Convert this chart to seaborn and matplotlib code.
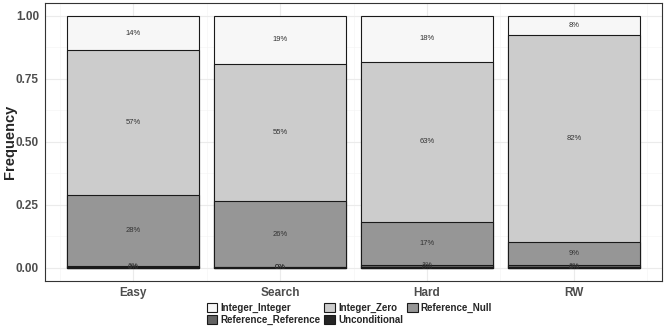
import numpy as np
import pandas as pd
import matplotlib
matplotlib.use("Agg")
import matplotlib.pyplot as plt
import seaborn as sns
from matplotlib.patches import Patch
from matplotlib.ticker import MultipleLocator

# proportions per task type
tasks = ["Easy", "Search", "Hard", "RW"]
integer_integer = [0.136, 0.190, 0.183, 0.075]
integer_zero = [0.574, 0.546, 0.634, 0.822]
reference_null = [0.281, 0.259, 0.170, 0.093]
reference_reference = [0.007, 0.003, 0.010, 0.008]
unconditional = [0.002, 0.002, 0.003, 0.002]

groups = ["Integer_Integer", "Integer_Zero", "Reference_Null",
          "Reference_Reference", "Unconditional"]
colors = ["#F7F7F7", "#CCCCCC", "#969696", "#636363", "#252525"]

df = pd.DataFrame({
    "Task": tasks,
    "Integer_Integer": integer_integer,
    "Integer_Zero": integer_zero,
    "Reference_Null": reference_null,
    "Reference_Reference": reference_reference,
    "Unconditional": unconditional,
})

sns.set_style("white")
plt.rcParams["font.family"] = ["Liberation Sans", "DejaVu Sans"]

fig = plt.figure(figsize=(6.64, 3.32), dpi=100)
ax = fig.add_axes([0.068, 0.155, 0.929, 0.835])

# stack from the bottom: Unconditional first, Integer_Integer on top
stack_order = groups[::-1]
cum = df[stack_order].cumsum(axis=1)

# draw cumulative bars from tallest to shortest so they overlap as a stack
for g in groups:
    col = colors[groups.index(g)]
    sns.barplot(x=df["Task"], y=cum[g], color=col, edgecolor="#1a1a1a",
                linewidth=0.8, width=0.9, ax=ax, zorder=2)

# percentage labels in the middle of each segment
for i, t in enumerate(tasks):
    base = 0.0
    for g in stack_order:
        v = df.loc[i, g]
        ax.text(i, base + v / 2, f"{v * 100:.0f}%", ha="center", va="center",
                fontsize=5.5, color="#333333", zorder=3)
        base += v

ax.set_xlim(-0.6, 3.6)
ax.set_ylim(-0.05, 1.05)
ax.set_yticks([0, 0.25, 0.5, 0.75, 1.0])
ax.set_yticklabels(["0.00", "0.25", "0.50", "0.75", "1.00"])
ax.yaxis.set_minor_locator(MultipleLocator(0.125))
ax.set_xticks(range(4))
ax.set_xticks(np.arange(-0.5, 4, 1), minor=True)

ax.grid(which="major", color="#EBEBEB", linewidth=0.8, zorder=0)
ax.grid(which="minor", color="#F5F5F5", linewidth=0.5, zorder=0)
ax.set_axisbelow(True)

for s in ax.spines.values():
    s.set_color("#333333")
    s.set_linewidth(0.8)

ax.tick_params(axis="both", which="major", length=2.5, width=0.6,
               color="#333333", labelsize=8.5, labelcolor="#4D4D4D")
ax.tick_params(axis="both", which="minor", length=0)
ax.tick_params(axis="x", pad=2)
ax.tick_params(axis="y", pad=2)
for lab in ax.get_xticklabels() + ax.get_yticklabels():
    lab.set_fontweight("bold")

ax.set_xlabel("")
ax.set_ylabel("Frequency", fontsize=10.5, fontweight="bold")
ax.yaxis.set_label_coords(-0.045, 0.5)

# legend, row-wise order in 3 columns
handles = [Patch(facecolor=c, edgecolor="#1a1a1a", linewidth=0.8, label=g)
           for g, c in zip(groups, colors)]
order = [0, 3, 1, 4, 2]
fig.legend([handles[k] for k in order], [groups[k] for k in order],
           loc="upper center", bbox_to_anchor=(0.526, 0.103), ncol=3,
           frameon=False, prop={"weight": "bold", "size": 7},
           handlelength=1.1, handleheight=1.1, handletextpad=0.3,
           columnspacing=0.4, labelspacing=0.2, borderpad=0)

fig.savefig("out.png", dpi=100)
